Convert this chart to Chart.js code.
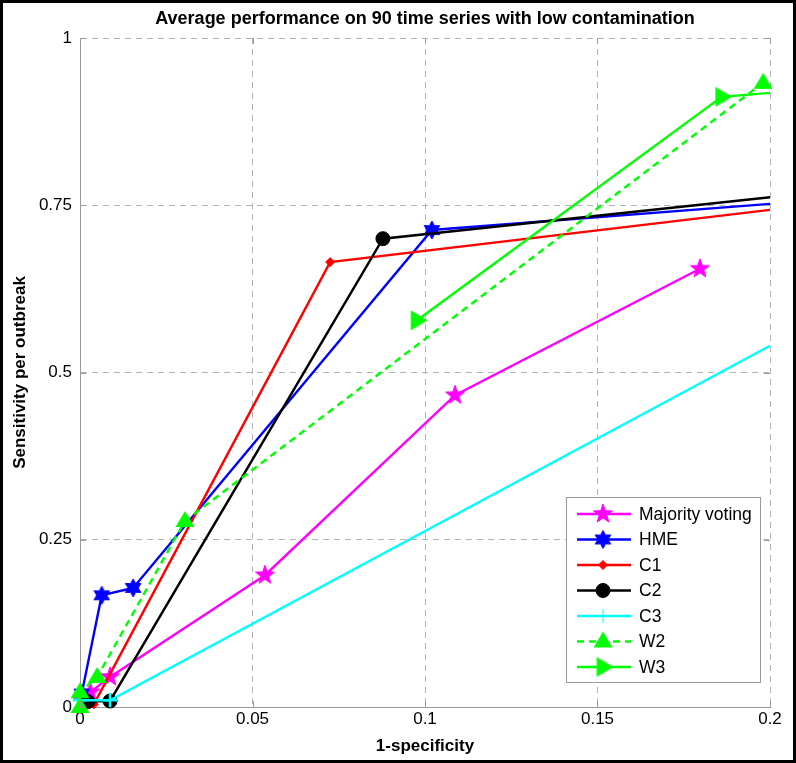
<!DOCTYPE html>
<html>
<head>
<meta charset="utf-8">
<script src="https://cdn.jsdelivr.net/npm/chart.js@4/dist/chart.umd.min.js"></script>
<style>
  html, body { margin: 0; padding: 0; background: #fff; }
  #wrap { width: 796px; height: 763px; position: relative; }
</style>
</head>
<body>
<div id="wrap"><canvas id="c" width="796" height="763"></canvas></div>
<script>
// ---- data ----
const seriesNames = ['Majority voting', 'HME', 'C1', 'C2', 'C3', 'W2', 'W3'];
const majX = [0.003, 0.0087, 0.0536, 0.1087, 0.1797];
const majY = [0.022, 0.045, 0.197, 0.466, 0.655];
const hmeX = [0.0005, 0.0063, 0.0154, 0.102, 0.2];
const hmeY = [0.02, 0.167, 0.178, 0.713, 0.752];
const c1X = [0.004, 0.0725, 0.2];
const c1Y = [0.004, 0.665, 0.743];
const c2X = [0.0023, 0.0087, 0.0878, 0.2];
const c2Y = [0.008, 0.009, 0.700, 0.762];
const c3X = [0, 0.0087, 0.2];
const c3Y = [0.01, 0.01, 0.54];
const w2X = [0, 0, 0.005, 0.0304, 0.198];
const w2Y = [0, 0.022, 0.045, 0.278, 0.933];
const w3X = [0.0977, 0.186, 0.2];
const w3Y = [0.578, 0.912, 0.918];
const xTickValues = [0, 0.05, 0.1, 0.15, 0.2];
const xTickLabels = ['0', '0.05', '0.1', '0.15', '0.2'];
const yTickValues = [0, 0.25, 0.5, 0.75, 1];
const yTickLabels = ['0', '0.25', '0.5', '0.75', '1'];
const chartTitle = 'Average performance on 90 time series with low contamination';
const xTitle = '1-specificity';
const yTitle = 'Sensitivity per outbreak';

// ---- marker images ----
function starImg(n, outer, inner, color) {
  const s = Math.ceil(outer * 2 + 2);
  const c = document.createElement('canvas');
  c.width = s; c.height = s;
  const g = c.getContext('2d');
  g.translate(s / 2, s / 2);
  g.beginPath();
  for (let i = 0; i < n * 2; i++) {
    const r = i % 2 === 0 ? outer : inner;
    const a = -Math.PI / 2 + i * Math.PI / n;
    const px = r * Math.cos(a), py = r * Math.sin(a);
    if (i === 0) g.moveTo(px, py); else g.lineTo(px, py);
  }
  g.closePath();
  g.fillStyle = color; g.fill();
  g.strokeStyle = color; g.lineWidth = 1; g.stroke();
  return c;
}
function rightTriImg(r, color) {
  const s = Math.ceil(r * 2 + 2);
  const c = document.createElement('canvas');
  c.width = s; c.height = s;
  const g = c.getContext('2d');
  g.translate(s / 2, s / 2);
  g.beginPath();
  g.moveTo(r, 0); g.lineTo(-r * 0.6, -r * 0.95); g.lineTo(-r * 0.6, r * 0.95); g.closePath();
  g.fillStyle = color; g.fill();
  return c;
}
function upTriImg(r, color) {
  const s = Math.ceil(r * 2 + 2);
  const c = document.createElement('canvas');
  c.width = s; c.height = s;
  const g = c.getContext('2d');
  g.translate(s / 2, s / 2);
  g.beginPath();
  g.moveTo(0, -r); g.lineTo(r * 0.95, r * 0.6); g.lineTo(-r * 0.95, r * 0.6); g.closePath();
  g.fillStyle = color; g.fill();
  return c;
}

const MAG = '#ff00ff', BLUE = '#0000ff', RED = '#ff0000', BLACK = '#000000', CYAN = '#00ffff', GREEN = '#00ff00';
const imgPent = starImg(5, 10, 4, MAG);
const imgHex = starImg(6, 9, 5, BLUE);
const imgUp = upTriImg(10, GREEN);
const imgRight = rightTriImg(10.5, GREEN);

function pts(xs, ys) { return xs.map((x, i) => ({ x: x, y: ys[i] })); }
const hideEdge = (r) => (ctx) => (ctx.raw && ctx.raw.x >= 0.2 ? 0 : r);

const styles = [
  { color: MAG, pointStyle: imgPent, radius: 10, dash: [] },
  { color: BLUE, pointStyle: imgHex, radius: 9, dash: [] },
  { color: RED, pointStyle: 'rectRot', radius: 4.5, dash: [] },
  { color: BLACK, pointStyle: 'circle', radius: 7, dash: [] },
  { color: CYAN, pointStyle: 'cross', radius: 7, dash: [] },
  { color: GREEN, pointStyle: imgUp, radius: 10, dash: [7, 5] },
  { color: GREEN, pointStyle: imgRight, radius: 10, dash: [] }
];
const xsAll = [majX, hmeX, c1X, c2X, c3X, w2X, w3X];
const ysAll = [majY, hmeY, c1Y, c2Y, c3Y, w2Y, w3Y];

const datasets = seriesNames.map((name, i) => ({
  label: name,
  data: pts(xsAll[i], ysAll[i]),
  showLine: true,
  borderColor: styles[i].color,
  backgroundColor: styles[i].color,
  borderWidth: 2.4,
  borderDash: styles[i].dash,
  pointStyle: styles[i].pointStyle,
  pointRadius: hideEdge(styles[i].radius),
  pointHoverRadius: hideEdge(styles[i].radius),
  pointBorderColor: styles[i].color,
  pointBackgroundColor: styles[i].color,
  pointBorderWidth: styles[i].pointStyle === 'cross' ? 2.5 : 1,
  tension: 0,
  clip: false,
  order: 10 - i
}));

const FONT = "'Liberation Sans', Arial, sans-serif";
const AXIS_GRAY = '#9a9a9a';

const framePlugin = {
  id: 'framePlugin',
  beforeDraw(chart) {
    const { ctx } = chart;
    ctx.save();
    ctx.fillStyle = '#fff';
    ctx.fillRect(0, 0, chart.width, chart.height);
    ctx.restore();
  },
  afterDraw(chart) {
    const { ctx, chartArea: a } = chart;
    const xs = chart.scales.x, ys = chart.scales.y;
    ctx.save();
    // inward tick marks on all four sides
    ctx.strokeStyle = AXIS_GRAY;
    ctx.lineWidth = 1;
    ctx.beginPath();
    xTickValues.forEach(v => {
      const px = Math.round(xs.getPixelForValue(v)) + 0.5;
      ctx.moveTo(px, a.bottom); ctx.lineTo(px, a.bottom - 6);
      ctx.moveTo(px, a.top); ctx.lineTo(px, a.top + 6);
    });
    yTickValues.forEach(v => {
      const py = Math.round(ys.getPixelForValue(v)) + 0.5;
      ctx.moveTo(a.left, py); ctx.lineTo(a.left + 6, py);
      ctx.moveTo(a.right, py); ctx.lineTo(a.right - 6, py);
    });
    ctx.stroke();
    // outer black frame
    ctx.strokeStyle = '#000';
    ctx.lineWidth = 3;
    ctx.strokeRect(1.5, 1.5, chart.width - 3, chart.height - 3);
    // title
    ctx.fillStyle = '#000';
    ctx.font = 'bold 18px ' + FONT;
    ctx.textAlign = 'center';
    ctx.textBaseline = 'middle';
    ctx.fillText(chartTitle, (a.left + a.right) / 2, 19);

    // legend
    const bx = 566, by = 497, bw = 194, bh = 185;
    ctx.fillStyle = '#fff';
    ctx.fillRect(bx, by, bw, bh);
    ctx.strokeStyle = AXIS_GRAY;
    ctx.lineWidth = 1;
    ctx.strokeRect(bx + 0.5, by + 0.5, bw, bh);
    ctx.font = '17.5px ' + FONT;
    ctx.textAlign = 'left';
    ctx.textBaseline = 'middle';
    seriesNames.forEach((name, i) => {
      const y = by + 17 + i * 25.5;
      const st = styles[i];
      ctx.save();
      ctx.strokeStyle = st.color;
      ctx.lineWidth = 2.4;
      ctx.setLineDash(st.dash);
      ctx.beginPath();
      ctx.moveTo(bx + 11, y);
      ctx.lineTo(bx + 65, y);
      ctx.stroke();
      ctx.restore();
      ctx.save();
      ctx.fillStyle = st.color;
      ctx.strokeStyle = st.color;
      Chart.helpers.drawPoint(ctx, {
        pointStyle: st.pointStyle,
        radius: st.radius,
        rotation: 0,
        borderWidth: st.pointStyle === 'cross' ? 2.5 : 1
      }, bx + 37, y);
      ctx.restore();
      ctx.fillStyle = '#000';
      ctx.fillText(name, bx + 73, y + 1);
    });
    ctx.restore();
  }
};

new Chart(document.getElementById('c'), {
  type: 'scatter',
  data: { datasets },
  plugins: [framePlugin],
  options: {
    responsive: false,
    animation: false,
    devicePixelRatio: 1,
    layout: { padding: { left: 4, right: 26, top: 38, bottom: 0 } },
    plugins: {
      legend: { display: false },
      tooltip: { enabled: false },
      title: { display: false }
    },
    scales: {
      x: {
        type: 'linear',
        min: 0, max: 0.2,
        afterBuildTicks(scale) { scale.ticks = xTickValues.map(v => ({ value: v })); },
        afterFit(scale) { scale.height = 56; },
        ticks: {
          color: '#000',
          font: { family: FONT, size: 17 },
          padding: 2,
          maxRotation: 0,
          autoSkip: false,
          callback: (v, i) => xTickLabels[i]
        },
        grid: { color: '#b4b4b4', lineWidth: 1, drawTicks: false },
        border: { display: true, color: AXIS_GRAY, width: 1, dash: [6, 5] },
        title: {
          display: true, text: xTitle, color: '#000',
          font: { family: FONT, size: 17, weight: 'bold' },
          padding: { top: 0, bottom: 6 }
        }
      },
      y: {
        type: 'linear',
        min: 0, max: 1,
        afterBuildTicks(scale) { scale.ticks = yTickValues.map(v => ({ value: v })); },
        afterFit(scale) { scale.width = 76; },
        ticks: {
          color: '#000',
          font: { family: FONT, size: 17 },
          padding: 8,
          autoSkip: false,
          callback: (v, i) => yTickLabels[i]
        },
        grid: { color: '#b4b4b4', lineWidth: 1, drawTicks: false },
        border: { display: true, color: AXIS_GRAY, width: 1, dash: [6, 5] },
        title: {
          display: true, text: yTitle, color: '#000',
          font: { family: FONT, size: 17, weight: 'bold' },
          padding: { top: 6, bottom: 0 }
        }
      }
    }
  }
});
</script>
</body>
</html>
